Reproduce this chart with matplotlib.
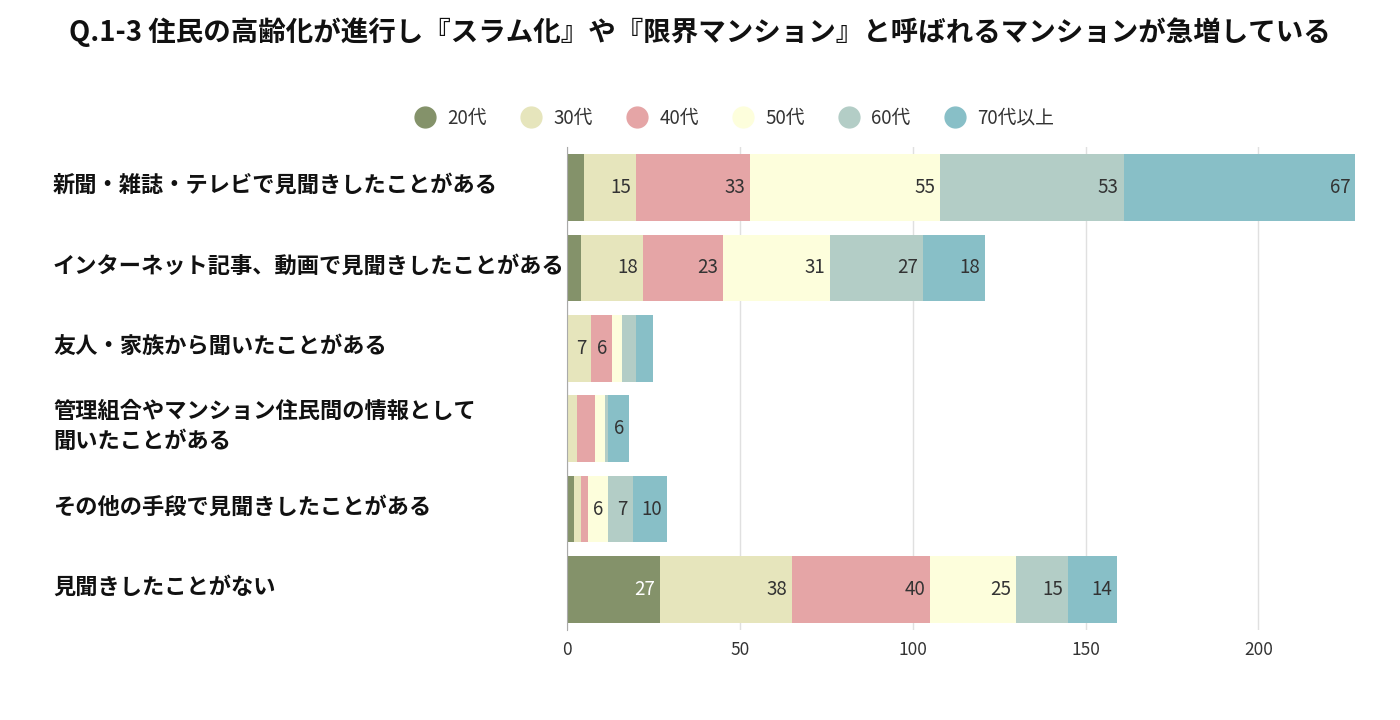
import numpy as np
import matplotlib.pyplot as plt
from matplotlib.lines import Line2D
from matplotlib.transforms import blended_transform_factory, offset_copy

plt.rcParams['font.family'] = ['Noto Sans CJK JP', 'DejaVu Sans']

title = 'Q.1-3 住民の高齢化が進行し『スラム化』や『限界マンション』と呼ばれるマンションが急増している'
categories = [
    '新聞・雑誌・テレビで見聞きしたことがある',
    'インターネット記事、動画で見聞きしたことがある',
    '友人・家族から聞いたことがある',
    '管理組合やマンション住民間の情報として\n聞いたことがある',
    'その他の手段で見聞きしたことがある',
    '見聞きしたことがない',
]
series_names = ['20代', '30代', '40代', '50代', '60代', '70代以上']
age_20 = [5, 4, 0, 0, 2, 27]
age_30 = [15, 18, 7, 3, 2, 38]
age_40 = [33, 23, 6, 5, 2, 40]
age_50 = [55, 31, 3, 3, 6, 25]
age_60 = [53, 27, 4, 1, 7, 15]
age_70 = [67, 18, 5, 6, 10, 14]
series = [age_20, age_30, age_40, age_50, age_60, age_70]
colors = ['#84926a', '#e6e5bc', '#e5a5a6', '#fdfedc', '#b3cdc6', '#88bfc7']
text_colors = ['white', '#333333', '#333333', '#333333', '#333333', '#333333']

fig = plt.figure(figsize=(14, 7.2), dpi=100)
ax = fig.add_axes([0.405, 0.1254, 0.563, 0.67])

y = np.arange(len(categories))
left = np.zeros(len(categories))
for name, vals, c, tc in zip(series_names, series, colors, text_colors):
    vals = np.array(vals, dtype=float)
    ax.barh(y, vals, left=left, height=0.83, color=c, zorder=2)
    for yi, (l, v) in enumerate(zip(left, vals)):
        if v >= 6:
            ax.annotate(f'{int(v)}', xy=(l + v, yi), xytext=(-3.5, 0), textcoords='offset points',
                        ha='right', va='center', fontsize=13.5, color=tc, zorder=3)
    left += vals

ax.set_xlim(0, left.max())
ax.set_ylim(len(categories) - 0.5, -0.5)
ax.set_xticks([0, 50, 100, 150, 200])
ax.tick_params(axis='x', length=0, labelsize=12.5, colors='#333333', pad=8)
ax.set_yticks([])
ax.grid(axis='x', color='#e0e0e0', linewidth=1, zorder=0)
for s in ['top', 'right', 'bottom']:
    ax.spines[s].set_visible(False)
ax.spines['left'].set_color('#aaaaaa')
ax.spines['left'].set_zorder(4)

# category labels, left aligned at the figure edge
trans = blended_transform_factory(fig.transFigure, ax.transData)
trans = offset_copy(trans, fig=fig, y=1.5, units='points')
for yi, cat in enumerate(categories):
    ax.text(53 / 1400, yi, cat, transform=trans, ha='left', va='center',
            fontsize=16, fontweight='bold', color='#111111', linespacing=1.4)

fig.text(0.5, 1 - 32 / 720, title, ha='center', va='center', fontsize=19.8,
         fontweight='bold', color='#111111')

handles = [Line2D([0], [0], marker='o', linestyle='', markersize=15,
                  markerfacecolor=c, markeredgecolor=c) for c in colors]
fig.legend(handles, series_names, loc='center', bbox_to_anchor=(730 / 1400, 1 - 118 / 720),
           ncol=6, frameon=False, fontsize=13.5, handletextpad=0.2, columnspacing=1.35,
           labelcolor='#333333')

fig.savefig('out.png', dpi=100)
